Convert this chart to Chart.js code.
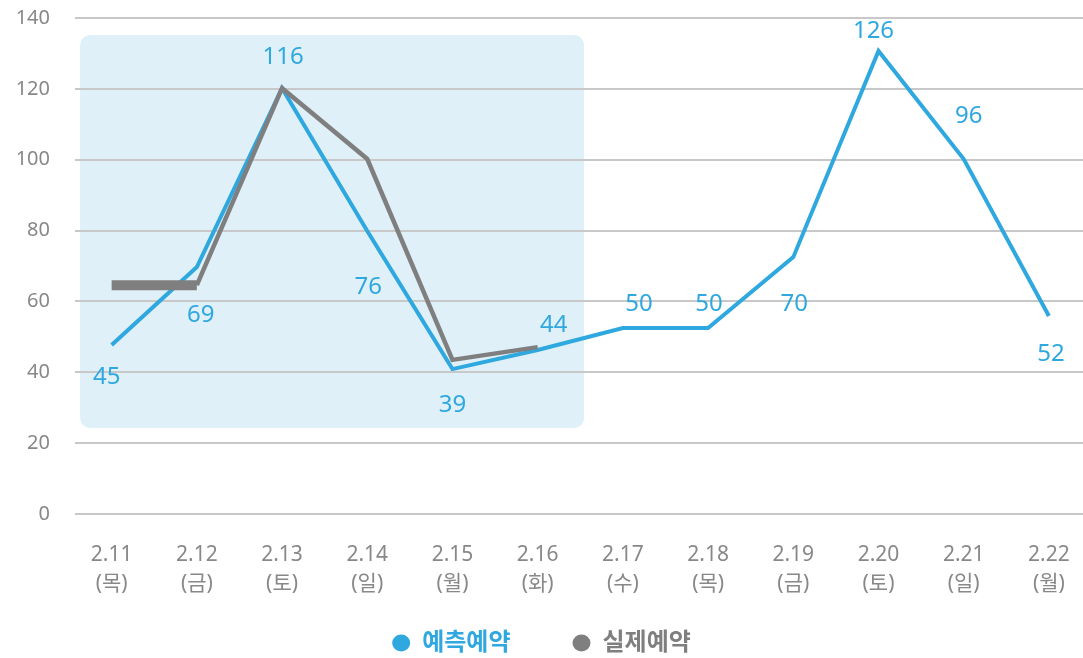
<!DOCTYPE html>
<html>
<head>
<meta charset="utf-8">
<script src="https://cdn.jsdelivr.net/npm/chart.js@4"></script>
<style>
  html, body { margin: 0; padding: 0; background: #fff; }
  #wrap { width: 1083px; height: 658px; position: relative; }
</style>
</head>
<body>
<div id="wrap"><canvas id="chart"></canvas></div>
<script>
const dates = ['2.11','2.12','2.13','2.14','2.15','2.16','2.17','2.18','2.19','2.20','2.21','2.22'];
const days  = ['(목)','(금)','(토)','(일)','(월)','(화)','(수)','(목)','(금)','(토)','(일)','(월)'];

// 예측예약 (plotted) and the numbers printed beside it
const forecast = [47.7, 69.7, 120.2, 79.9, 40.9, 46.3, 52.5, 52.5, 72.5, 130.7, 100.2, 55.9];
const forecastLabels = [45, 69, 116, 76, 39, 44, 50, 50, 70, 126, 96, 52];

// 실제예약 (first six days only)
const actual = [64.6, 64.6, 120.2, 100.2, 43.5, 47.1];

const yTicks = [0, 20, 40, 60, 80, 100, 120, 140];

const BLUE = '#2fa8df';
const GRAY = '#7f7f7f';
const FONT = "'Noto Sans', 'Noto Sans CJK KR', sans-serif";

// label offsets from point, px
const labelOffsets = [[-5,32],[4,48],[1,-31],[1,56],[0,36],[16,-25],[16,-24],[1,-24],[1,47],[-5,-20],[5,-43],[2,38]];

const toXY = arr => arr.map((v, i) => ({ x: i, y: v }));

// shaded "actual period" box behind the lines
const shadeBox = {
  id: 'shadeBox',
  beforeDraw(chart) {
    const { ctx, scales: { x, y } } = chart;
    const l = x.getPixelForValue(-0.37), r = x.getPixelForValue(5.545);
    const t = y.getPixelForValue(135.2), b = y.getPixelForValue(24.3);
    ctx.save();
    ctx.fillStyle = '#dff0f9';
    ctx.beginPath();
    ctx.roundRect(l, t, r - l, b - t, 10);
    ctx.fill();
    ctx.restore();
  }
};

const valueLabels = {
  id: 'valueLabels',
  afterDatasetsDraw(chart) {
    const { ctx } = chart;
    const meta = chart.getDatasetMeta(0);
    ctx.save();
    ctx.font = '24px ' + FONT;
    ctx.fillStyle = BLUE;
    ctx.textAlign = 'center';
    ctx.textBaseline = 'middle';
    meta.data.forEach((pt, i) => {
      const [dx, dy] = labelOffsets[i];
      ctx.fillText(String(forecastLabels[i]), pt.x + dx, pt.y + dy);
    });
    ctx.restore();
  }
};

new Chart(document.getElementById('chart'), {
  type: 'line',
  data: {
    datasets: [
      {
        label: '예측예약',
        data: toXY(forecast),
        borderColor: BLUE,
        backgroundColor: BLUE,
        borderWidth: 4,
        pointRadius: 0,
        tension: 0,
        order: 1
      },
      {
        label: '실제예약',
        data: toXY(actual),
        borderColor: GRAY,
        backgroundColor: GRAY,
        borderWidth: 4.5,
        pointRadius: 0,
        tension: 0,
        order: 0,
        segment: { borderWidth: c => c.p0DataIndex === 0 ? 10 : 4.5 },
        borderCapStyle: 'butt'
      }
    ]
  },
  options: {
    responsive: true,
    maintainAspectRatio: false,
    animation: false,
    layout: { padding: { top: 18, right: 0, bottom: -7, left: 0 } },
    plugins: {
      tooltip: { enabled: false },
      legend: {
        position: 'bottom',
        labels: {
          usePointStyle: true,
          boxHeight: 12,
          pointStyleWidth: 18,
          padding: 26,
          font: { family: FONT, size: 24, weight: 'bold' },
          generateLabels(chart) {
            return chart.data.datasets.map((ds, i) => ({
              // trailing space widens the gap between the two items
              text: i === 0 ? ds.label + '\u2003\u2002' : ds.label,
              fillStyle: ds.borderColor,
              strokeStyle: ds.borderColor,
              fontColor: ds.borderColor,
              lineWidth: 0,
              pointStyle: 'circle',
              hidden: false,
              datasetIndex: i
            }));
          }
        }
      }
    },
    scales: {
      x: {
        type: 'linear',
        min: -0.43,
        max: 11.4,
        afterBuildTicks(scale) { scale.ticks = dates.map((d, i) => ({ value: i })); },
        grid: { display: false },
        border: { display: false },
        ticks: {
          padding: 19,
          color: '#888',
          font: { family: FONT, size: 21, lineHeight: 1.35 },
          maxRotation: 0,
          autoSkip: false,
          callback: v => [dates[v], days[v]]
        },
        afterFit(scale) {
          scale.height = 91;
          // let the grid run to the canvas edge
          scale.paddingLeft = 0;
          scale.paddingRight = 0;
        }
      },
      y: {
        min: 0,
        max: 140,
        afterBuildTicks(scale) { scale.ticks = yTicks.map(v => ({ value: v })); },
        grid: { color: '#c8c8c8', lineWidth: 2, drawTicks: true, tickLength: 25, tickColor: 'transparent' },
        border: { display: false },
        ticks: {
          padding: 0,
          color: '#888',
          font: { family: FONT, size: 20 }
        },
        afterFit(scale) { scale.width = 75; }
      }
    }
  },
  plugins: [shadeBox, valueLabels]
});
</script>
</body>
</html>
